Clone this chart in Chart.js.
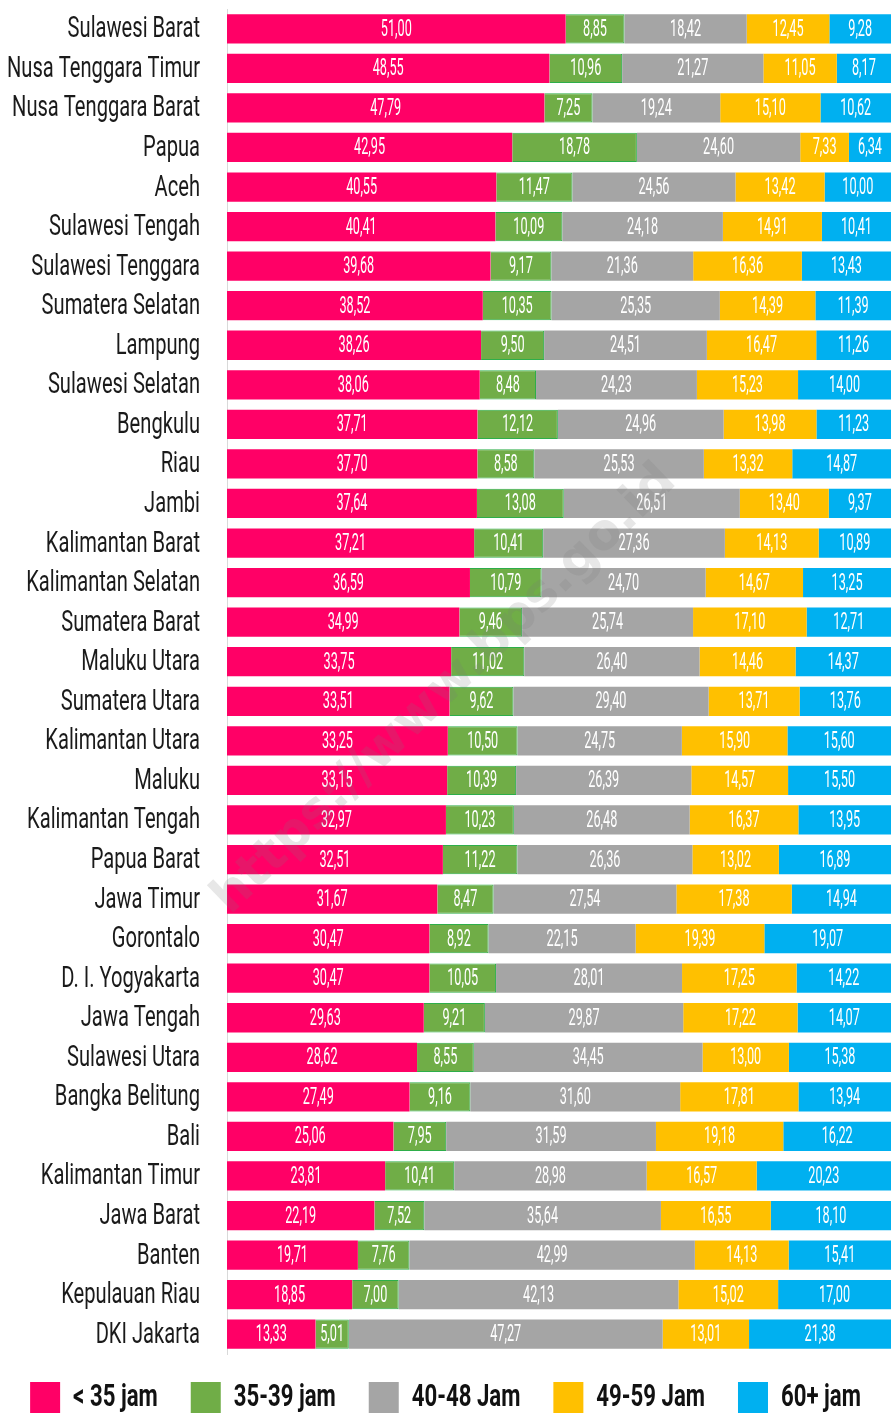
<!DOCTYPE html>
<html>
<head>
<meta charset="utf-8">
<script src="https://cdn.jsdelivr.net/npm/chart.js@4.4.0/dist/chart.umd.min.js"></script>
<style>
  body { margin: 0; background: #fff; }
  #wrap { width: 891px; height: 1414px; position: relative; }
</style>
</head>
<body>
<div id="wrap"><canvas id="jamKerjaChart"></canvas></div>
<script>
// Data
const provinsi = ["Sulawesi Barat", "Nusa Tenggara Timur", "Nusa Tenggara Barat", "Papua", "Aceh",
  "Sulawesi Tengah", "Sulawesi Tenggara", "Sumatera Selatan", "Lampung", "Sulawesi Selatan",
  "Bengkulu", "Riau", "Jambi", "Kalimantan Barat", "Kalimantan Selatan", "Sumatera Barat",
  "Maluku Utara", "Sumatera Utara", "Kalimantan Utara", "Maluku", "Kalimantan Tengah",
  "Papua Barat", "Jawa Timur", "Gorontalo", "D. I. Yogyakarta", "Jawa Tengah", "Sulawesi Utara",
  "Bangka Belitung", "Bali", "Kalimantan Timur", "Jawa Barat", "Banten", "Kepulauan Riau", "DKI Jakarta"];
const kurang35 = [51.00, 48.55, 47.79, 42.95, 40.55, 40.41, 39.68, 38.52, 38.26, 38.06, 37.71, 37.70,
  37.64, 37.21, 36.59, 34.99, 33.75, 33.51, 33.25, 33.15, 32.97, 32.51, 31.67, 30.47, 30.47, 29.63,
  28.62, 27.49, 25.06, 23.81, 22.19, 19.71, 18.85, 13.33];
const jam35_39 = [8.85, 10.96, 7.25, 18.78, 11.47, 10.09, 9.17, 10.35, 9.50, 8.48, 12.12, 8.58,
  13.08, 10.41, 10.79, 9.46, 11.02, 9.62, 10.50, 10.39, 10.23, 11.22, 8.47, 8.92, 10.05, 9.21,
  8.55, 9.16, 7.95, 10.41, 7.52, 7.76, 7.00, 5.01];
const jam40_48 = [18.42, 21.27, 19.24, 24.60, 24.56, 24.18, 21.36, 25.35, 24.51, 24.23, 24.96, 25.53,
  26.51, 27.36, 24.70, 25.74, 26.40, 29.40, 24.75, 26.39, 26.48, 26.36, 27.54, 22.15, 28.01, 29.87,
  34.45, 31.60, 31.59, 28.98, 35.64, 42.99, 42.13, 47.27];
const jam49_59 = [12.45, 11.05, 15.10, 7.33, 13.42, 14.91, 16.36, 14.39, 16.47, 15.23, 13.98, 13.32,
  13.40, 14.13, 14.67, 17.10, 14.46, 13.71, 15.90, 14.57, 16.37, 13.02, 17.38, 19.39, 17.25, 17.22,
  13.00, 17.81, 19.18, 16.57, 16.55, 14.13, 15.02, 13.01];
const jam60plus = [9.28, 8.17, 10.62, 6.34, 10.00, 10.41, 13.43, 11.39, 11.26, 14.00, 11.23, 14.87,
  9.37, 10.89, 13.25, 12.71, 14.37, 13.76, 15.60, 15.50, 13.95, 16.89, 14.94, 19.07, 14.22, 14.07,
  15.38, 13.94, 16.22, 20.23, 18.10, 15.41, 17.00, 21.38];
const namaSeri = ["< 35 jam", "35-39 jam", "40-48 Jam", "49-59 Jam", "60+ jam"];
const warna = ["#FF0066", "#70AD47", "#A5A5A5", "#FFC000", "#00B0F0"];

// font aslinya sempit (condensed); dipersempit manual dengan skala horizontal
const FONT = "Roboto, 'Liberation Sans', sans-serif";

function teksSempit(ctx, teks, x, y, sx, align) {
  ctx.save();
  ctx.translate(x, y);
  ctx.scale(sx, 1);
  ctx.textAlign = align;
  ctx.fillText(teks, 0, 0);
  ctx.restore();
}

function skalaUntuk(ctx, font, contoh, lebar) {
  ctx.save();
  ctx.font = font;
  const w = ctx.measureText(contoh).width;
  ctx.restore();
  return lebar / w;
}

// label provinsi + angka di tengah tiap segmen
const labelNilai = {
  id: "labelNilai",
  afterDatasetsDraw(chart) {
    const ctx = chart.ctx;
    const yScale = chart.scales.y;

    ctx.save();
    ctx.textBaseline = "middle";
    const fontProv = "30px " + FONT;
    const sxProv = skalaUntuk(ctx, fontProv, "Nusa Tenggara Timur", 193);
    ctx.font = fontProv;
    ctx.fillStyle = "#1a1a1a";
    chart.data.labels.forEach((lbl, i) => {
      teksSempit(ctx, lbl, 200, yScale.getPixelForValue(i) + 1, sxProv, "right");
    });

    const fontNilai = "24px " + FONT;
    const sxNilai = skalaUntuk(ctx, fontNilai, "51,00", 31);
    ctx.font = fontNilai;
    ctx.fillStyle = "#fff";
    chart.data.datasets.forEach((ds, i) => {
      chart.getDatasetMeta(i).data.forEach((bar, j) => {
        const p = bar.getCenterPoint();
        teksSempit(ctx, ds.data[j].toFixed(2).replace(".", ","), p.x, p.y + 1, sxNilai, "center");
      });
    });
    ctx.restore();
  }
};

// legenda di bawah
const legendaBawah = {
  id: "legendaBawah",
  afterDraw(chart) {
    const ctx = chart.ctx;
    ctx.save();
    const fontLeg = "bold 32px " + FONT;
    const sx = skalaUntuk(ctx, fontLeg, "35-39 jam", 102);
    ctx.font = fontLeg;
    ctx.textBaseline = "middle";
    const kotak = 30, jarakTeks = 13, jarakItem = 33;
    const lebar = namaSeri.map(t => kotak + jarakTeks + ctx.measureText(t).width * sx);
    const total = lebar.reduce((a, b) => a + b, 0) + jarakItem * (namaSeri.length - 1);
    let x = (chart.width - total) / 2;
    const yAtas = 1382, yTengah = 1398;
    namaSeri.forEach((t, i) => {
      ctx.fillStyle = warna[i];
      ctx.fillRect(x, yAtas, kotak, 31);
      ctx.fillStyle = "#111";
      teksSempit(ctx, t, x + kotak + jarakTeks, yTengah, sx, "left");
      x += lebar[i] + jarakItem;
    });
    ctx.restore();
  }
};

// watermark
const watermark = {
  id: "watermark",
  afterDraw(chart) {
    const ctx = chart.ctx;
    ctx.save();
    ctx.translate(445, 690);
    ctx.rotate(-44 * Math.PI / 180);
    ctx.font = "bold 50px 'DejaVu Sans', sans-serif";
    ctx.fillStyle = "rgba(120,120,120,0.18)";
    ctx.textAlign = "center";
    ctx.textBaseline = "middle";
    ctx.fillText("https://www.bps.go.id", 0, 0);
    ctx.restore();
  }
};

const seri = [kurang35, jam35_39, jam40_48, jam49_59, jam60plus];

new Chart(document.getElementById("jamKerjaChart"), {
  type: "bar",
  data: {
    labels: provinsi,
    datasets: seri.map((d, i) => ({
      label: namaSeri[i],
      data: d,
      backgroundColor: warna[i],
      borderColor: i === 1 ? "#2EAE4A" : warna[i],
      borderWidth: i === 1 ? 1 : 0,
      categoryPercentage: 1,
      barPercentage: 0.74
    }))
  },
  plugins: [labelNilai, legendaBawah, watermark],
  options: {
    indexAxis: "y",
    responsive: true,
    maintainAspectRatio: false,
    animation: false,
    layout: { padding: { top: 9, bottom: 60, left: 0, right: 0 } },
    scales: {
      x: { stacked: true, display: false, min: 0, max: 100 },
      y: {
        stacked: true,
        grid: { display: false, drawTicks: false },
        border: { display: true, color: "#D9D9D9", width: 1 },
        ticks: { display: false },
        afterFit(scale) { scale.width = 227; }
      }
    },
    plugins: {
      legend: { display: false },
      tooltip: { enabled: false }
    }
  }
});
</script>
</body>
</html>
